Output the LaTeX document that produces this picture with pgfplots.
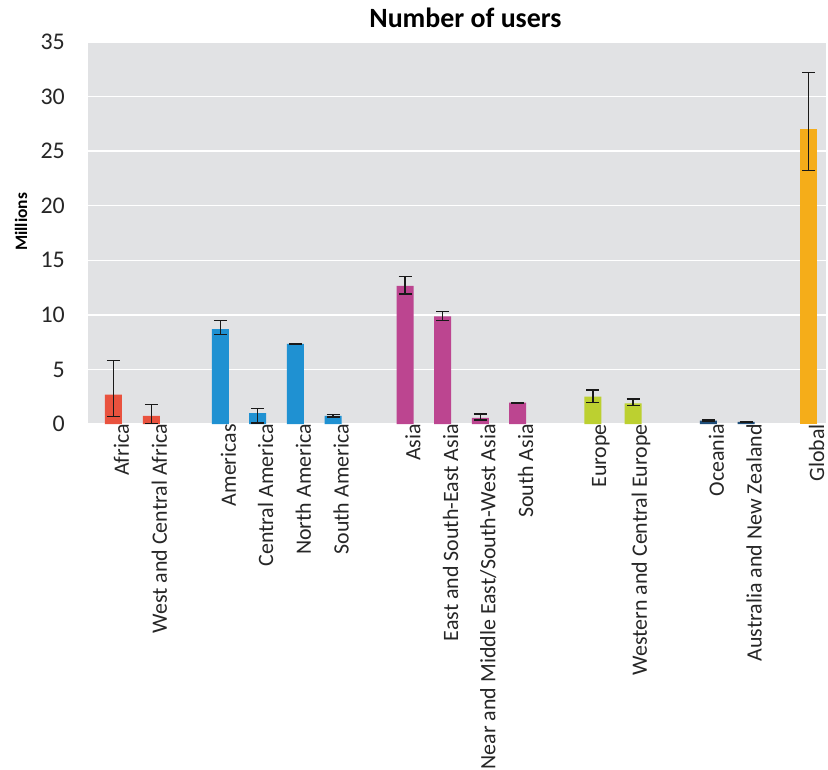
\documentclass[border=0pt]{standalone}
\usepackage{fontspec}
\setmainfont{Carlito}
\usepackage{pgfplots}
\pgfplotsset{compat=1.18}
\definecolor{bggray}{HTML}{E1E2E4}
\definecolor{cafr}{HTML}{E9523E}
\definecolor{camr}{HTML}{1F91D2}
\definecolor{casi}{HTML}{BC4590}
\definecolor{ceur}{HTML}{BCD030}
\definecolor{coce}{HTML}{1F4E79}
\definecolor{cglo}{HTML}{F5AD19}
\pgfplotsset{myerr/.style={draw=none, error bars/.cd, y dir=both, y explicit,
    error bar style={black!90, line width=1.4bp},
    error mark options={black!90, line width=1.4bp, mark size=6.5bp, rotate=90}}}
\begin{document}
\begin{tikzpicture}
\begin{axis}[
  scale only axis,
  width=738bp, height=382bp,
  xmin=88, xmax=826,
  ymin=0, ymax=35,
  ytick={0,5,...,35},
  axis line style={draw=none},
  axis background/.style={fill=bggray},
  ymajorgrids,
  grid style={white, line width=1.5bp},
  major tick length=0pt,
  ybar, bar width=17bp, bar shift=0pt,
  xtick={113.5,151.3,220.3,257.5,295.3,333,405,442.5,480.3,517.7,592.8,633,708.3,746,808.7},
  xticklabels={Africa,West and Central Africa,Americas,Central America,North America,South America,Asia,East and South-East Asia,Near and Middle East/South-West Asia,South Asia,Europe,Western and Central Europe,Oceania,Australia and New Zealand,Global},
  xticklabel style={rotate=90, anchor=east, font=\fontsize{22}{25}\selectfont, text=black!85, inner sep=0pt, yshift=-8bp},
  yticklabel style={font=\fontsize{24}{27}\selectfont, text=black!85, inner sep=0pt, xshift=-23bp},
  /pgf/number format/assume math mode=true,
  ylabel={\bfseries Millions},
  ylabel style={at={(axis description cs:-0.0908,0.529)}, anchor=center, font=\fontsize{17.5}{20}\selectfont},
  title={\bfseries Number of users},
  title style={at={(axis description cs:0.5115,1.0236)}, anchor=base, font=\fontsize{28}{31}\selectfont},
]
\addplot[fill=cafr, myerr] coordinates {(113.5,2.7) += (0,3.1) -= (0,2.0) (151.3,0.75) += (0,1.05) -= (0,0.7)};
\addplot[fill=camr, myerr] coordinates {(220.3,8.7) += (0,0.8) -= (0,0.5) (257.5,1.0) += (0,0.4) -= (0,0.9) (295.3,7.35) += (0,0.05) -= (0,0.05) (333,0.75) += (0,0.1) -= (0,0.1)};
\addplot[fill=casi, myerr] coordinates {(405,12.65) += (0,0.85) -= (0,0.75) (442.5,9.85) += (0,0.45) -= (0,0.35) (480.3,0.55) += (0,0.35) -= (0,0.2) (517.7,1.95) += (0,0.03) -= (0,0.03)};
\addplot[fill=ceur, myerr] coordinates {(592.8,2.5) += (0,0.6) -= (0,0.55) (633,1.9) += (0,0.4) -= (0,0.2)};
\addplot[fill=coce, myerr] coordinates {(708.3,0.3) += (0,0.05) -= (0,0.05) (746,0.2) += (0,0.05) -= (0,0.05)};
\addplot[fill=cglo, myerr] coordinates {(808.7,27.0) += (0,5.2) -= (0,3.8)};
\end{axis}
\path (current axis.south west) ++(-88bp,-345bp) coordinate (bbA);
\path (current axis.north east) ++(2bp,42bp) coordinate (bbB);
\path[use as bounding box] (bbA) rectangle (bbB);
\end{tikzpicture}
\end{document}
